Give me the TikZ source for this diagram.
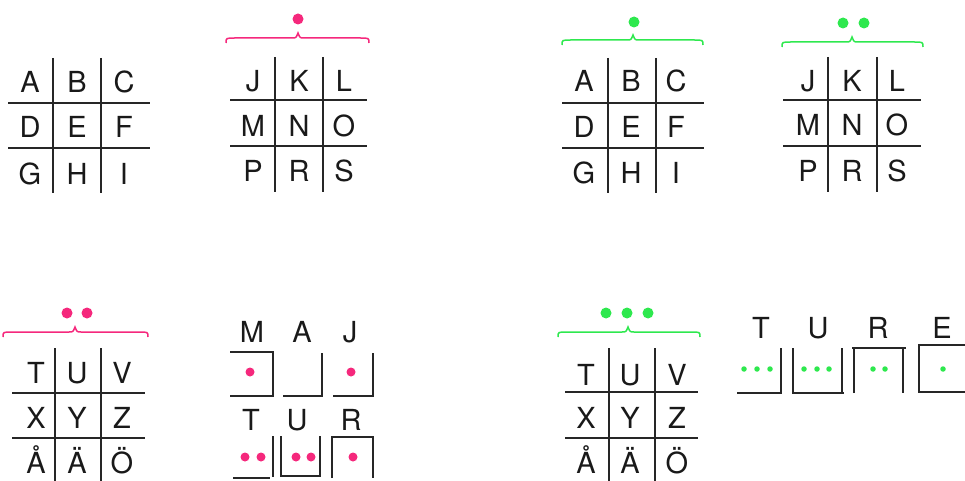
\documentclass[tikz,border=0pt]{standalone}
\usepackage{fontspec}
\setmainfont{TeX Gyre Heros}
\definecolor{pinkc}{HTML}{F5287C}
\definecolor{greenc}{HTML}{2EE84E}
\newcommand\mybrace[5]{% color, x1, x2, xm, y
  \draw[bracestyle,#1] (#2,{#5+5}) .. controls (#2,#5) .. ({#2+9},#5) -- ({#4-6},#5)
    .. controls ({#4-2},#5) .. (#4,{#5-5}) .. controls ({#4+2},#5) .. ({#4+6},#5)
    -- ({#3-9},#5) .. controls (#3,#5) .. (#3,{#5+5});}
\begin{document}
\begin{tikzpicture}[x=1pt,y=-1pt,
  gridline/.style={line width=1.7pt,black!85},
  boxline/.style={line width=1.7pt,black!85},
  bracestyle/.style={line width=1.5pt},
  letter/.style={anchor=base,inner sep=0pt,font=\fontsize{29}{29}\selectfont,text=black!90},
  bigdot/.style={circle,inner sep=0pt,minimum size=11pt},
  middot/.style={circle,inner sep=0pt,minimum size=9pt},
  smalldot/.style={circle,inner sep=0pt,minimum size=5.5pt}]
\useasboundingbox (0,0) rectangle (965,481);
% ---------- grid 1: A..I ----------
\draw[gridline] (53,58) -- (53,193) (101,58) -- (101,193) (8,103) -- (150,103) (8,148) -- (150,148);
\foreach \t/\x/\y [count=\i] in {A/30/93,B/77/93,C/124/93,D/30/138,E/77/138,F/124/138,G/30/184,H/77/184,I/124/184}
  \node[letter] (ga\i) at (\x,\y) {\t};
% ---------- grid 2: J..S (pink) ----------
\draw[gridline] (275,57) -- (275,192) (323,57) -- (323,192) (230,100) -- (367,100) (230,146) -- (367,146);
\foreach \t/\x/\y [count=\i] in {J/253/92,K/299/92,L/344/92,M/253/137,N/299/137,O/344/137,P/253/182,R/299/182,S/344/182}
  \node[letter] (gb\i) at (\x,\y) {\t};
\mybrace{pinkc}{226}{369}{298}{38}
\node[bigdot,fill=pinkc] (pb1) at (298,19) {};
% ---------- grid 3: A..I (green) ----------
\draw[gridline] (608,58) -- (608,193) (656,58) -- (656,193) (562,103) -- (704,103) (562,148) -- (704,148);
\foreach \t/\x/\y [count=\i] in {A/584/92,B/631/92,C/676/92,D/584/138,E/631/138,F/676/138,G/584/183,H/631/183,I/676/183}
  \node[letter] (gc\i) at (\x,\y) {\t};
\mybrace{greenc}{562}{703}{633}{40}
\node[bigdot,fill=greenc] (gdc1) at (634,22) {};
% ---------- grid 4: J..S (green) ----------
\draw[gridline] (828,57) -- (828,192) (877,57) -- (877,192) (783,100) -- (921,100) (783,146) -- (921,146);
\foreach \t/\x/\y [count=\i] in {J/808/92,K/852/92,L/897/92,M/808/136,N/852/136,O/897/136,P/808/182,R/852/182,S/897/182}
  \node[letter] (gd\i) at (\x,\y) {\t};
\mybrace{greenc}{782}{923}{852}{42}
\node[bigdot,fill=greenc] (gdd1) at (843,23) {};
\node[bigdot,fill=greenc] (gdd2) at (864,23) {};
% ---------- grid 5: T..Ö (pink) ----------
\draw[gridline] (55,348) -- (55,481) (101,348) -- (101,481) (12,393) -- (145,393) (12,438) -- (145,438);
\foreach \t/\x/\y [count=\i] in {T/36/383,U/77/383,V/122/383,X/36/428,Y/77/428,Z/122/428,Å/36/473,Ä/77/473,Ö/122/473}
  \node[letter] (ge\i) at (\x,\y) {\t};
\mybrace{pinkc}{3}{148}{75}{332}
\node[bigdot,fill=pinkc] (pe1) at (67,313) {};
\node[bigdot,fill=pinkc] (pe2) at (87,313) {};
% ---------- grid 6: T..Ö (green) ----------
\draw[gridline] (609,348) -- (609,481) (655,348) -- (655,481) (565,392) -- (698,392) (565,438) -- (698,438);
\foreach \t/\x/\y [count=\i] in {T/586/385,U/630/385,V/677/385,X/586/428,Y/630/428,Z/677/428,Å/586/473,Ä/630/473,Ö/677/473}
  \node[letter] (gf\i) at (\x,\y) {\t};
\mybrace{greenc}{558}{700}{628}{332}
\node[bigdot,fill=greenc] (gdf1) at (606,313) {};
\node[bigdot,fill=greenc] (gdf2) at (627,313) {};
\node[bigdot,fill=greenc] (gdf3) at (648,313) {};
% ---------- MAJ (pink) ----------
\node[letter] (m1) at (252,342) {M};
\node[letter] (m2) at (302,342) {A};
\node[letter] (m3) at (350,342) {J};
\draw[boxline] (230,352) -- (273,352) -- (273,396) -- (230,396);
\node[middot,fill=pinkc] (mp1) at (250,372) {};
\draw[boxline] (283,396) -- (322,396) -- (322,353);
\draw[boxline] (333,396) -- (373,396) -- (373,353);
\node[middot,fill=pinkc] (mp3) at (351,372) {};
% ---------- TUR (pink) ----------
\node[letter] (t1) at (251,430) {T};
\node[letter] (t2) at (297,430) {U};
\node[letter] (t3) at (351,430) {R};
\draw[boxline] (273,436) -- (273,477);
\draw[boxline] (233,478) -- (270,478);
\node[middot,fill=pinkc] (tp1) at (245,457) {};
\node[middot,fill=pinkc] (tp2) at (261,457) {};
\draw[boxline] (281,436) -- (281,476) -- (320,476) -- (320,436);
\node[middot,fill=pinkc] (tp3) at (296,457) {};
\node[middot,fill=pinkc] (tp4) at (311,457) {};
\draw[boxline] (332,478) -- (332,437) -- (373,437) -- (373,478);
\node[middot,fill=pinkc] (tp5) at (353,457) {};
% ---------- TURE (green) ----------
\node[letter] (u1) at (761,338) {T};
\node[letter] (u2) at (818,338) {U};
\node[letter] (u3) at (878,338) {R};
\node[letter] (u4) at (942,338) {E};
\draw[boxline] (737,393) -- (781,393) -- (781,348);
\foreach \x [count=\i] in {744,757,770} \node[smalldot,fill=greenc] (ua\i) at (\x,369) {};
\draw[boxline] (793,348) -- (793,393) -- (844,393);
\draw[boxline] (842,348) -- (842,393);
\foreach \x [count=\i] in {804,817,829} \node[smalldot,fill=greenc] (ub\i) at (\x,369) {};
\draw[boxline] (854,393) -- (854,347) (852,348) -- (906,348) (903,347) -- (903,393);
\foreach \x [count=\i] in {873,885} \node[smalldot,fill=greenc] (uc\i) at (\x,369) {};
\draw[boxline] (919,344) -- (919,393) (918,345) -- (970,345) (918,392) -- (970,392);
\node[smalldot,fill=greenc] (ud1) at (943,369) {};
\end{tikzpicture}
\end{document}
